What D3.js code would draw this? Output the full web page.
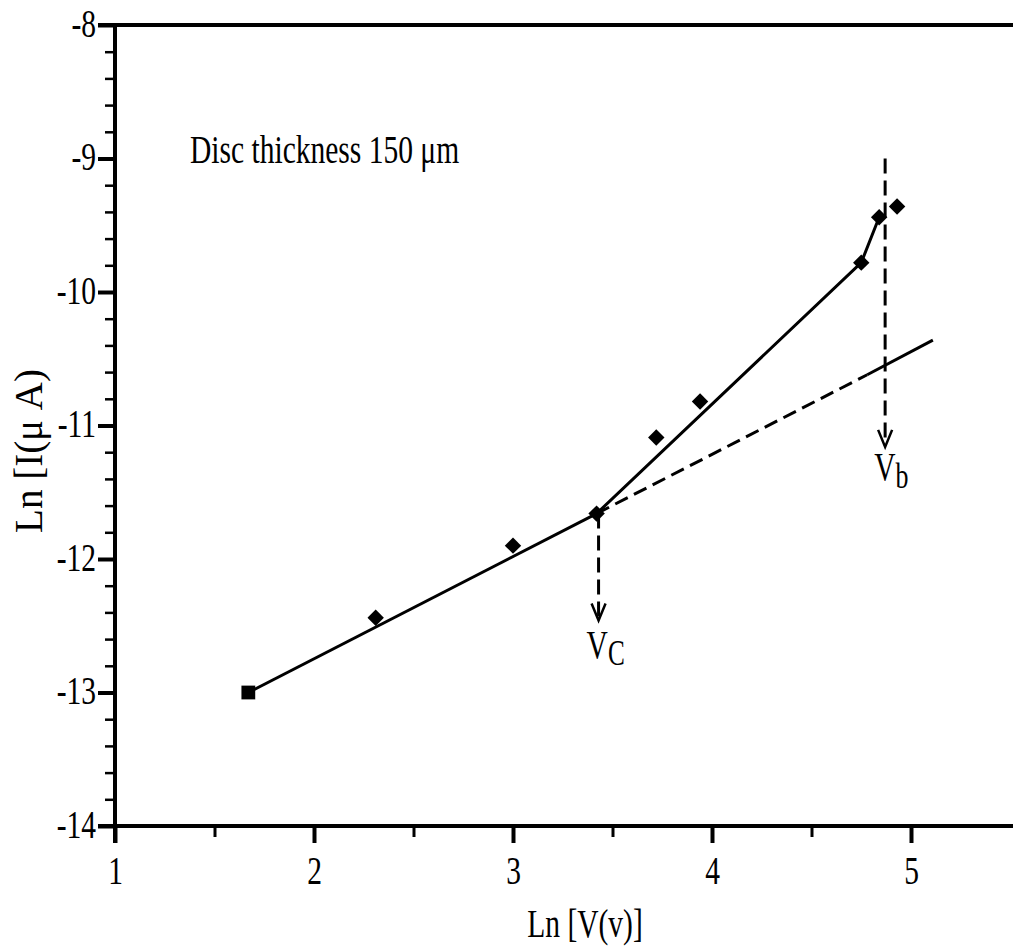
<!DOCTYPE html>
<html>
<head>
<meta charset="utf-8">
<script src="https://cdn.jsdelivr.net/npm/d3@7"></script>
<style>
body { margin: 0; background: #fff; }
text { font-family: "Liberation Serif", "Times New Roman", serif; font-size: 41px; fill: #000; }
</style>
</head>
<body>
<div id="chart"></div>
<script>
// measured points: ln V against ln I
const lnV = [1.67, 2.31, 3.00, 3.42, 3.72, 3.94, 4.75, 4.84, 4.93]
const lnI = [-13.00, -12.44, -11.90, -11.66, -11.09, -10.82, -9.78, -9.44, -9.36]

// tick values
const xTicks = [1, 2, 3, 4, 5]
const xMinor = [1.5, 2.5, 3.5, 4.5]
const yTicks = [-14, -13, -12, -11, -10, -9, -8]

// fitted lines
const ohmicV = [1.67, 3.42]
const ohmicI = [-13.00, -11.66]
const extDashV = [3.42, 4.78]
const extDashI = [-11.66, -10.62]
const extSolidV = [4.78, 5.11]
const extSolidI = [-10.62, -10.36]
const sclcV = [3.42, 4.75, 4.84]
const sclcI = [-11.66, -9.78, -9.44]

// Vc and Vb markers
const vcV = 3.43, vcI = [-11.66, -12.46]
const vbV = 4.87, vbI = [-9.0, -11.16]

const W = 1013, H = 949
const sx = 0.72 // text is horizontally condensed in the original

const svg = d3.select("#chart")
    .append("svg")
    .attr("width", W)
    .attr("height", H)

const x = d3.scaleLinear().domain([1, 5]).range([115, 911])
const y = d3.scaleLinear().domain([-14, -8]).range([826, 25])

// minor y ticks every 0.2
const yMinor = d3.range(-14, -8, 0.2).map(d => +d.toFixed(1)).filter(d => !Number.isInteger(d))

// bottom axis, major ticks
const xAxis = svg.append("g")
    .attr("transform", `translate(0,${y(-14)})`)
    .call(d3.axisBottom(x).tickValues(xTicks).tickSize(17).tickFormat(d => String(d)))
xAxis.attr("font-size", null).attr("font-family", null)
xAxis.select(".domain").remove()
xAxis.selectAll("line").attr("stroke", "#000").attr("stroke-width", 4)
xAxis.selectAll("text")
    .attr("y", 29)
    .attr("dy", "0.71em")
    .attr("transform", `scale(${sx},1)`)

// bottom axis, minor ticks
const xAxisMinor = svg.append("g")
    .attr("transform", `translate(0,${y(-14)})`)
    .call(d3.axisBottom(x).tickValues(xMinor).tickSize(11).tickFormat(""))
xAxisMinor.select(".domain").remove()
xAxisMinor.selectAll("line").attr("stroke", "#000").attr("stroke-width", 3)

// left axis, major ticks
const yAxis = svg.append("g")
    .attr("transform", `translate(${x(1)},0)`)
    .call(d3.axisLeft(y).tickValues(yTicks).tickSize(17).tickFormat(d => String(d)))
yAxis.attr("font-size", null).attr("font-family", null)
yAxis.select(".domain").remove()
yAxis.selectAll("line").attr("stroke", "#000").attr("stroke-width", 4)
yAxis.selectAll("text")
    .attr("x", -19 / sx)
    .attr("dy", "0.28em")
    .attr("transform", `scale(${sx},1)`)

// left axis, minor ticks
const yAxisMinor = svg.append("g")
    .attr("transform", `translate(${x(1)},0)`)
    .call(d3.axisLeft(y).tickValues(yMinor).tickSize(10).tickFormat(""))
yAxisMinor.select(".domain").remove()
yAxisMinor.selectAll("line").attr("stroke", "#000").attr("stroke-width", 2.5)

// frame lines: bottom, top and left
const frame = svg.append("g").attr("stroke", "#000").attr("stroke-width", 4)
frame.append("line")
    .attr("x1", x(1) - 17).attr("x2", W)
    .attr("y1", y(-14)).attr("y2", y(-14))
frame.append("line")
    .attr("x1", x(1) - 17).attr("x2", W)
    .attr("y1", y(-8)).attr("y2", y(-8))
frame.append("line")
    .attr("x1", x(1)).attr("x2", x(1))
    .attr("y1", y(-8) - 2).attr("y2", y(-14) + 17)

// line helper
const line = d3.line().x(d => x(d[0])).y(d => y(d[1]))
const pairs = (vs, is) => vs.map((v, i) => [v, is[i]])

const lines = svg.append("g").attr("fill", "none").attr("stroke", "#000").attr("stroke-width", 3)
lines.append("path").attr("d", line(pairs(ohmicV, ohmicI)))
lines.append("path").attr("d", line(pairs(extDashV, extDashI))).attr("stroke-dasharray", "14,7")
lines.append("path").attr("d", line(pairs(extSolidV, extSolidI)))
lines.append("path").attr("d", line(pairs(sclcV, sclcI)))

// vertical dashed markers with arrow heads
function marker(v, range) {
    const px = x(v)
    lines.append("line")
        .attr("x1", px).attr("x2", px)
        .attr("y1", y(range[0])).attr("y2", y(range[1]) - 2)
        .attr("stroke-dasharray", "15,7")
    const tip = y(range[1])
    lines.append("path")
        .attr("d", `M${px - 7},${tip - 17}L${px},${tip}L${px + 7},${tip - 17}`)
        .attr("stroke-width", 2.5)
}
marker(vcV, vcI)
marker(vbV, vbI)

// data markers
const sym = d3.symbol().type(d3.symbolSquare)
svg.append("g")
    .selectAll("path")
    .data(pairs(lnV, lnI))
    .join("path")
    .attr("d", (d, i) => sym.size(i === 0 ? 190 : 135)())
    .attr("transform", (d, i) => `translate(${x(d[0])},${y(d[1])}) rotate(${i === 0 ? 0 : 45})`)
    .attr("fill", "#000")

// labels
svg.append("text")
    .attr("transform", `translate(190,163) scale(${sx},1)`)
    .text("Disc thickness 150 μm")

const vc = svg.append("text")
    .attr("transform", `translate(${x(vcV) - 12},${y(vcI[1]) + 38}) scale(${sx},1)`)
vc.append("tspan").text("V")
vc.append("tspan").attr("font-size", 35).attr("dy", 7).text("C")

const vb = svg.append("text")
    .attr("transform", `translate(${x(vbV) - 11},${y(vbI[1]) + 33}) scale(${sx},1)`)
vb.append("tspan").text("V")
vb.append("tspan").attr("font-size", 36).attr("dy", 8).text("b")

// axis titles
svg.append("text")
    .attr("text-anchor", "middle")
    .attr("transform", `translate(585,937) scale(${sx},1)`)
    .text("Ln [V(v)]")

svg.append("text")
    .attr("text-anchor", "middle")
    .style("font-size", "39px")
    .attr("transform", "translate(42,451) rotate(-90)")
    .text("Ln [I(μ A)")
</script>
</body>
</html>
